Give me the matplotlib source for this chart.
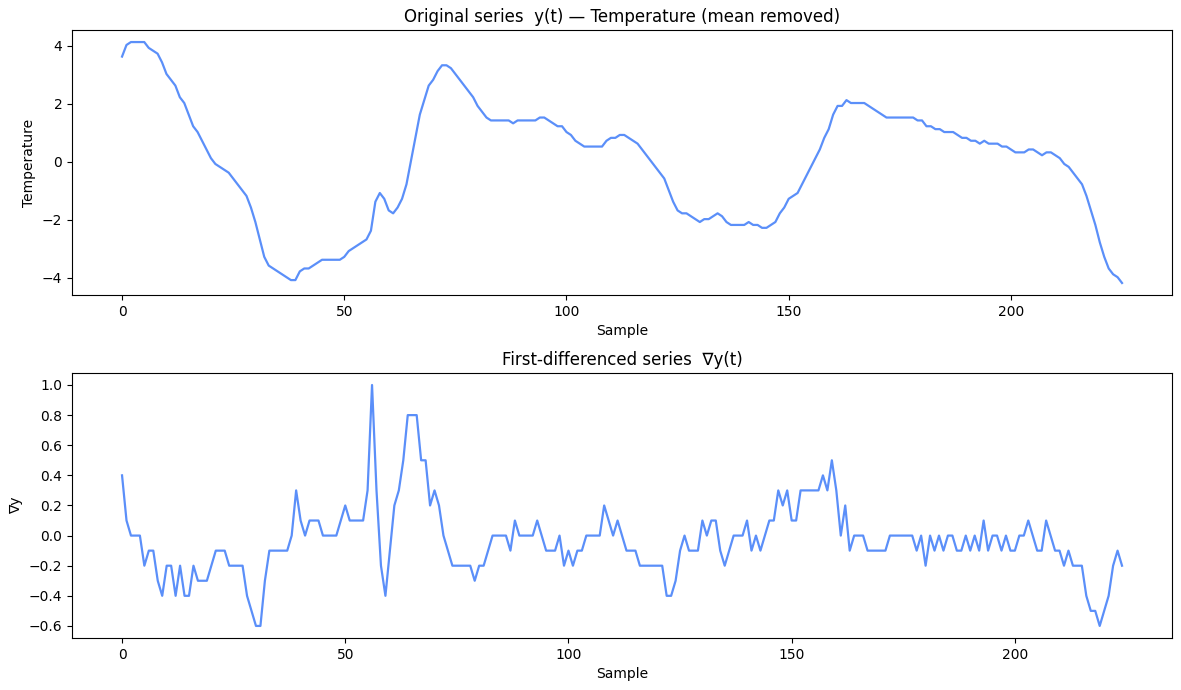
import matplotlib
matplotlib.use("Agg")
import matplotlib.pyplot as plt
import numpy as np

# raw temperature readings (one per sample)
temperature = [
    3.6, 4.0, 4.1, 4.1, 4.1, 4.1, 3.9, 3.8, 3.7, 3.4,
    3.0, 2.8, 2.6, 2.2, 2.0, 1.6, 1.2, 1.0, 0.7, 0.4,
    0.1, -0.1, -0.2, -0.3, -0.4, -0.6, -0.8, -1.0, -1.2, -1.6,
    -2.1, -2.7, -3.3, -3.6, -3.7, -3.8, -3.9, -4.0, -4.1, -4.1,
    -3.8, -3.7, -3.7, -3.6, -3.5, -3.4, -3.4, -3.4, -3.4, -3.4,
    -3.3, -3.1, -3.0, -2.9, -2.8, -2.7, -2.4, -1.4, -1.1, -1.3,
    -1.7, -1.8, -1.6, -1.3, -0.8, 0.0, 0.8, 1.6, 2.1, 2.6,
    2.8, 3.1, 3.3, 3.3, 3.2, 3.0, 2.8, 2.6, 2.4, 2.2,
    1.9, 1.7, 1.5, 1.4, 1.4, 1.4, 1.4, 1.4, 1.3, 1.4,
    1.4, 1.4, 1.4, 1.4, 1.5, 1.5, 1.4, 1.3, 1.2, 1.2,
    1.0, 0.9, 0.7, 0.6, 0.5, 0.5, 0.5, 0.5, 0.5, 0.7,
    0.8, 0.8, 0.9, 0.9, 0.8, 0.7, 0.6, 0.4, 0.2, 0.0,
    -0.2, -0.4, -0.6, -1.0, -1.4, -1.7, -1.8, -1.8, -1.9, -2.0,
    -2.1, -2.0, -2.0, -1.9, -1.8, -1.9, -2.1, -2.2, -2.2, -2.2,
    -2.2, -2.1, -2.2, -2.2, -2.3, -2.3, -2.2, -2.1, -1.8, -1.6,
    -1.3, -1.2, -1.1, -0.8, -0.5, -0.2, 0.1, 0.4, 0.8, 1.1,
    1.6, 1.9, 1.9, 2.1, 2.0, 2.0, 2.0, 2.0, 1.9, 1.8,
    1.7, 1.6, 1.5, 1.5, 1.5, 1.5, 1.5, 1.5, 1.5, 1.4,
    1.4, 1.2, 1.2, 1.1, 1.1, 1.0, 1.0, 1.0, 0.9, 0.8,
    0.8, 0.7, 0.7, 0.6, 0.7, 0.6, 0.6, 0.6, 0.5, 0.5,
    0.4, 0.3, 0.3, 0.3, 0.4, 0.4, 0.3, 0.2, 0.3, 0.3,
    0.2, 0.1, -0.1, -0.2, -0.4, -0.6, -0.8, -1.2, -1.7, -2.2,
    -2.8, -3.3, -3.7, -3.9, -4.0, -4.2,
]

line_color = "#5b8ff9"

y = np.array(temperature) - np.mean(temperature)
dy = np.diff(y)

fig, (ax1, ax2) = plt.subplots(2, 1, figsize=(11.81, 6.9), dpi=100)

ax1.plot(np.arange(len(y)), y, color=line_color, lw=1.6)
ax1.set_title("Original series  y(t) \u2014 Temperature (mean removed)")
ax1.set_xlabel("Sample")
ax1.set_ylabel("Temperature")

ax2.plot(np.arange(len(dy)), dy, color=line_color, lw=1.6)
ax2.set_title("First-differenced series  \u2207y(t)")
ax2.set_xlabel("Sample")
ax2.set_ylabel("\u2207y")

# match the tight, cropped margins of the original
fig.subplots_adjust(left=0.061, right=0.9924, top=0.9565, bottom=0.0754, hspace=0.294)
plt.savefig("out.png")
